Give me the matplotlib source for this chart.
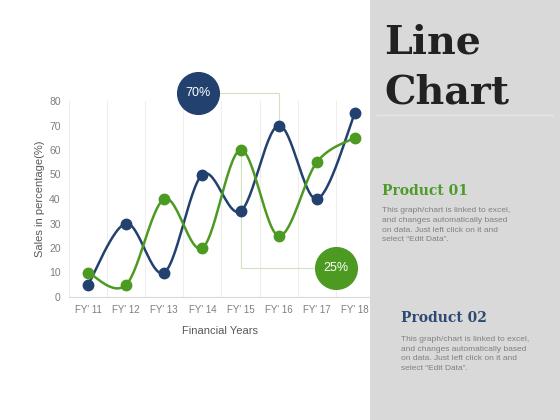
import matplotlib
matplotlib.use("Agg")
import matplotlib.pyplot as plt
from matplotlib.patches import Rectangle
import numpy as np

# --- DATA ---
years = ["FY' 11", "FY' 12", "FY' 13", "FY' 14", "FY' 15", "FY' 16", "FY' 17", "FY' 18"]
product_02 = [5, 30, 10, 50, 35, 70, 40, 75]   # bleu
product_01 = [10, 5, 40, 20, 60, 25, 55, 65]   # vert
yticks = [0, 10, 20, 30, 40, 50, 60, 70, 80]

desc = ("This graph/chart is linked to excel,\nand changes automatically based\n"
        "on data. Just left click on it and\nselect \u201cEdit Data\u201d.")

BLUE = '#22416e'
GREEN = '#4d9a22'
W, H = 560, 420


def fx(x):
    return x / W


def fy(y):
    return 1 - y / H


def smooth(xs, ys, n=30):
    # courbe lissée façon Excel (Catmull-Rom)
    p = np.column_stack([xs, ys]).astype(float)
    p = np.vstack([p[0], p, p[-1]])
    out = []
    t = np.linspace(0, 1, n)[:, None]
    for i in range(1, len(p) - 2):
        p0, p1, p2, p3 = p[i - 1], p[i], p[i + 1], p[i + 2]
        seg = 0.5 * ((2 * p1) + (-p0 + p2) * t + (2 * p0 - 5 * p1 + 4 * p2 - p3) * t**2
                     + (-p0 + 3 * p1 - 3 * p2 + p3) * t**3)
        out.append(seg)
    out = np.vstack(out)
    return out[:, 0], out[:, 1]


fig = plt.figure(figsize=(5.6, 4.2), dpi=100)
fig.patch.set_facecolor('white')

# panneau gris à droite
fig.patches.append(Rectangle((fx(370), 0), 1 - fx(370), 1, transform=fig.transFigure,
                             facecolor='#d9d9d9', edgecolor='none', zorder=0))
fig.add_artist(plt.Line2D([fx(377), fx(553)], [fy(115), fy(115)], color='#e6e6e6', lw=1))

ax = fig.add_axes([fx(69), fy(297), fx(372) - fx(69), fy(101) - fy(297)])
ax.set_facecolor('none')
x = np.arange(len(years))
ax.set_xlim(-0.5, 7.45)
ax.set_ylim(0, 80)

for b in np.arange(-0.5, 7.5, 1.0):
    ax.axvline(b, color='#eeeeee', lw=0.8, zorder=0)
ax.axvline(7.45, color='white', lw=1, zorder=0)

for s in ['top', 'right', 'left']:
    ax.spines[s].set_visible(False)
ax.spines['bottom'].set_color('#d9d9d9')

ax.set_xticks(x)
ax.set_xticklabels(years, fontsize=7, color='#7f7f7f', family='Liberation Sans')
ax.set_yticks(yticks)
ax.set_yticklabels(yticks, fontsize=7.5, color='#7f7f7f', family='Liberation Sans')
ax.tick_params(length=0, pad=6)
ax.set_xlabel('Financial Years', fontsize=8, color='#595959', family='Liberation Sans', labelpad=8)
ax.set_ylabel('Sales in percentage(%)', fontsize=8, color='#595959', family='Liberation Sans', labelpad=3)

sx, sy = smooth(x, product_02)
ax.plot(sx, sy, color=BLUE, lw=1.8, zorder=3, clip_on=False)
ax.plot(x, product_02, 'o', color=BLUE, ms=7.5, zorder=4, clip_on=False)
sx, sy = smooth(x, product_01)
ax.plot(sx, sy, color=GREEN, lw=1.8, zorder=3, clip_on=False)
ax.plot(x, product_01, 'o', color=GREEN, ms=7.5, zorder=4, clip_on=False)

# bulles 70% / 25%
i16 = years.index("FY' 16")
i15 = years.index("FY' 15")
ax.plot([2.88, i16, i16], [83.3, 83.3, product_02[i16]], color='#cfe3c0', lw=0.8, zorder=2, clip_on=False)
ax.plot([2.88], [83.3], 'o', color=BLUE, ms=30, zorder=5, clip_on=False)
ax.text(2.88, 83.3, f"{product_02[i16]}%", color='white', ha='center', va='center',
        fontsize=9, family='Liberation Sans', zorder=6)
ax.plot([6.5, i15, i15], [11.8, 11.8, product_01[i15]], color='#cfe3c0', lw=0.8, zorder=2, clip_on=False)
ax.plot([6.5], [11.8], 'o', color=GREEN, ms=30, zorder=5, clip_on=False)
ax.text(6.5, 11.8, f"{product_01[i16]}%", color='white', ha='center', va='center',
        fontsize=9, family='Liberation Sans', zorder=6)

# textes du panneau
fig.text(fx(384), fy(53), 'Line', fontsize=28.5, fontweight='bold', family='DejaVu Serif',
         color='#222222', va='baseline')
fig.text(fx(384), fy(103), 'Chart', fontsize=28.5, fontweight='bold', family='DejaVu Serif',
         color='#222222', va='baseline')
fig.text(fx(382), fy(191), 'Product 01', fontsize=10, fontweight='bold', family='DejaVu Serif',
         color='#4e9a2a', va='center')
fig.text(fx(382), fy(207), desc, fontsize=6, family='Liberation Sans', color='#808080',
         va='top', linespacing=1.55)
fig.text(fx(401), fy(336), desc, fontsize=6, family='Liberation Sans', color='#808080',
         va='top', linespacing=1.55)
fig.text(fx(401), fy(318), 'Product 02', fontsize=10, fontweight='bold', family='DejaVu Serif',
         color='#2c4a72', va='center')

fig.savefig('out.png', dpi=100)
